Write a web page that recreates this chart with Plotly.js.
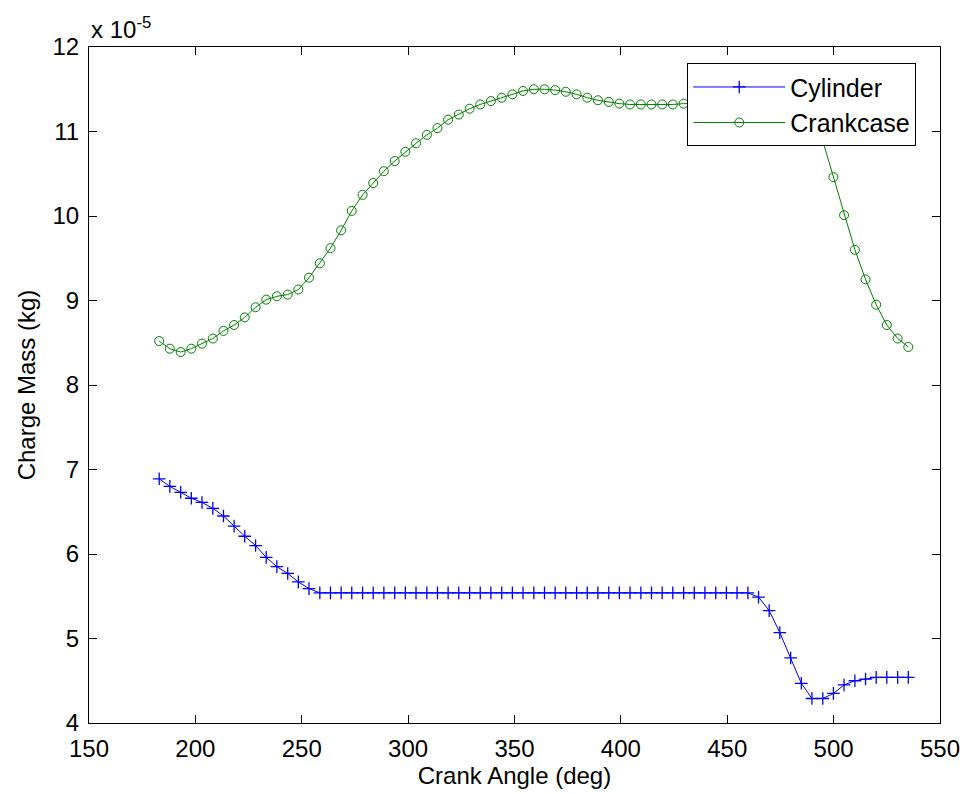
<!DOCTYPE html>
<html>
<head>
<meta charset="utf-8">
<script src="https://cdn.plot.ly/plotly-3.0.1.min.js"></script>
<style>
  html, body { margin: 0; padding: 0; background: #fff; }
  #chart { width: 969px; height: 794px; }
</style>
</head>
<body>
<div id="chart"></div>
<script>
// Crank angle samples (deg)
const crankAngle = [
  183.0, 188.0, 193.1, 198.1, 203.1, 208.2, 213.2, 218.2, 223.2, 228.3,
  233.3, 238.3, 243.4, 248.4, 253.4, 258.5, 263.5, 268.5, 273.5, 278.6,
  283.6, 288.6, 293.7, 298.7, 303.7, 308.8, 313.8, 318.8, 323.8, 328.9,
  333.9, 338.9, 344.0, 349.0, 354.0, 359.1, 364.1, 369.1, 374.1, 379.2,
  384.2, 389.2, 394.3, 399.3, 404.3, 409.4, 414.4, 419.4, 424.4, 429.5,
  434.5, 439.5, 444.6, 449.6, 454.6, 459.7, 464.7, 469.7, 474.7, 479.8,
  484.8, 489.8, 494.9, 499.9, 504.9, 510.0, 515.0, 520.0, 525.0, 530.1,
  535.1
];

// Charge mass, in units of 1e-5 kg
const cylinderMass = [
  6.89, 6.80, 6.73, 6.66, 6.61, 6.54, 6.45, 6.33, 6.21, 6.10,
  5.96, 5.85, 5.77, 5.67, 5.59, 5.54, 5.54, 5.54, 5.54, 5.54,
  5.54, 5.54, 5.54, 5.54, 5.54, 5.54, 5.54, 5.54, 5.54, 5.54,
  5.54, 5.54, 5.54, 5.54, 5.54, 5.54, 5.54, 5.54, 5.54, 5.54,
  5.54, 5.54, 5.54, 5.54, 5.54, 5.54, 5.54, 5.54, 5.54, 5.54,
  5.54, 5.54, 5.54, 5.54, 5.54, 5.54, 5.49, 5.33, 5.07, 4.77,
  4.47, 4.29, 4.29, 4.35, 4.45, 4.50, 4.52, 4.54, 4.54, 4.54,
  4.54
];

const crankcaseMass = [
  8.52, 8.43, 8.39, 8.43, 8.49, 8.55, 8.64, 8.71, 8.80, 8.92,
  9.01, 9.05, 9.07, 9.13, 9.27, 9.44, 9.62, 9.83, 10.06, 10.25,
  10.39, 10.53, 10.65, 10.76, 10.86, 10.96, 11.04, 11.14, 11.20, 11.27,
  11.32, 11.36, 11.40, 11.44, 11.48, 11.50, 11.50, 11.49, 11.47, 11.44,
  11.40, 11.37, 11.35, 11.33, 11.32, 11.32, 11.32, 11.32, 11.32, 11.33,
  11.33, 11.33, 11.33, 11.32, 11.31, 11.30, 11.28, 11.25, 11.21, 11.16,
  11.10, 11.01, 10.89, 10.46, 10.01, 9.60, 9.25, 8.95, 8.71, 8.55,
  8.45
];

const seriesNames = ["Cylinder", "Crankcase"];
const xTicks = [150, 200, 250, 300, 350, 400, 450, 500, 550];
const yTicks = [4, 5, 6, 7, 8, 9, 10, 11, 12];

const FONT = "Liberation Sans, Arial, Helvetica, sans-serif";
const FS = 24;

const traces = [
  {
    x: crankAngle, y: cylinderMass, name: seriesNames[0],
    type: "scatter", mode: "lines+markers",
    line: { color: "rgb(0,0,255)", width: 1 },
    marker: { symbol: "cross-thin-open", size: 9, color: "rgb(0,0,255)",
              line: { color: "rgb(0,0,255)", width: 1.3 } }
  },
  {
    x: crankAngle, y: crankcaseMass, name: seriesNames[1],
    type: "scatter", mode: "lines+markers",
    line: { color: "rgb(0,128,0)", width: 1 },
    marker: { symbol: "circle-open", size: 9, color: "rgb(0,128,0)",
              line: { color: "rgb(0,128,0)", width: 1 } }
  }
];

const axisCommon = {
  showline: true, linecolor: "#000", linewidth: 1, mirror: "allticks",
  ticks: "inside", ticklen: 8, tickwidth: 1, tickcolor: "#000",
  showgrid: false, zeroline: false,
  tickfont: { family: FONT, size: FS, color: "#000" }
};

const layout = {
  width: 969, height: 794,
  margin: { l: 89, r: 29, t: 47, b: 71 },
  paper_bgcolor: "#fff", plot_bgcolor: "#fff",
  font: { family: FONT, color: "#000" },
  xaxis: Object.assign({}, axisCommon, {
    range: [150, 550], tickvals: xTicks, ticklabelstandoff: 4,
    title: { text: "Crank Angle (deg)", standoff: 6,
             font: { family: FONT, size: FS, color: "#000" } }
  }),
  yaxis: Object.assign({}, axisCommon, {
    range: [4, 12], tickvals: yTicks, ticklabelstandoff: 4,
    title: { text: "Charge Mass (kg)", standoff: 10,
             font: { family: FONT, size: FS, color: "#000" } }
  }),
  showlegend: true,
  legend: {
    x: 0.703, y: 0.976, xanchor: "left", yanchor: "top",
    bgcolor: "#fff", bordercolor: "#000", borderwidth: 1,
    font: { family: FONT, size: 25, color: "#000" },
    itemwidth: 92, entrywidth: 237, tracegroupgap: 0
  },
  annotations: [{
    xref: "paper", yref: "paper", x: 0, y: 1, xanchor: "left", yanchor: "bottom",
    yshift: 2, showarrow: false,
    text: "x 10<sup>-5</sup>",
    font: { family: FONT, size: FS, color: "#000" }
  }]
};

Plotly.newPlot("chart", traces, layout, { displayModeBar: false, staticPlot: true });
</script>
</body>
</html>
